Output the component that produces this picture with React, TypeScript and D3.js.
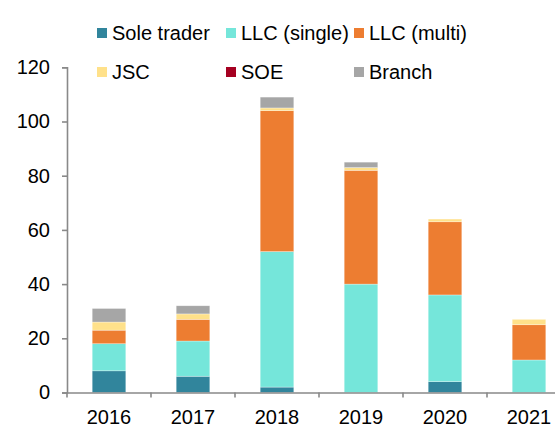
import { useEffect, useRef } from 'react'
import * as d3 from 'd3'

// stacked company counts by legal form, per year
const YEARS = ['2016', '2017', '2018', '2019', '2020', '2021']
const SERIES = ['Sole trader', 'LLC (single)', 'LLC (multi)', 'JSC', 'SOE', 'Branch']
const COLORS = ['#31859c', '#75e6da', '#ed7d31', '#ffe18a', '#a50021', '#a6a6a6']

const SOLE_TRADER = [8, 6, 2, 0, 4, 0]
const LLC_SINGLE = [10, 13, 50, 40, 32, 12]
const LLC_MULTI = [5, 8, 52, 42, 27, 13]
const JSC = [3, 2, 1, 1, 1, 2]
const SOE = [0, 0, 0, 0, 0, 0]
const BRANCH = [5, 3, 4, 2, 0, 0]

const Y_TICKS = [0, 20, 40, 60, 80, 100, 120]

const W = 555, H = 425
const FONT = 'Arial, "Liberation Sans", sans-serif'
const AXIS = '#898989'

export default function App() {
  const ref = useRef<SVGSVGElement>(null)

  useEffect(() => {
    const svg = d3.select(ref.current)
    svg.selectAll('*').remove()

    const values = [SOLE_TRADER, LLC_SINGLE, LLC_MULTI, JSC, SOE, BRANCH]
    const rows = YEARS.map((year, i) => {
      const r: any = { year }
      SERIES.forEach((s, si) => { r[s] = values[si][i] })
      return r
    })
    const stacked = d3.stack().keys(SERIES)(rows)

    const x = d3.scaleBand().domain(YEARS).range([67, 571]).paddingInner(0.6).paddingOuter(0.3)
    const y = d3.scaleLinear().domain([0, 120]).range([392.5, 67.3])

    // bars
    svg.append('g')
      .selectAll('g')
      .data(stacked)
      .join('g')
      .attr('fill', (_d, i) => COLORS[i])
      .selectAll('rect')
      .data(d => d)
      .join('rect')
      .attr('x', d => x(d.data.year as string)!)
      .attr('width', x.bandwidth())
      .attr('y', d => y(d[1]))
      .attr('height', d => y(d[0]) - y(d[1]))
      .attr('stroke', '#fff')
      .attr('stroke-opacity', 0.5)
      .attr('stroke-width', (d) => (d[1] - d[0] > 0 ? 0.6 : 0))

    // y axis
    svg.append('g')
      .attr('transform', `translate(${x.range()[0]},0)`)
      .call(d3.axisLeft(y).tickValues(Y_TICKS).tickSize(5).tickPadding(12).tickSizeOuter(5))
      .call(s => s.selectAll('line,path').attr('stroke', AXIS).attr('stroke-width', 1.6))
      .call(s => s.selectAll('text').attr('fill', '#000').attr('font-size', 20).attr('font-family', FONT))

    // x axis: labels under each bar, ticks at category boundaries
    const step = x.step()
    const gx = svg.append('g').attr('transform', `translate(0,${y(0)})`)
    gx.call(d3.axisBottom(x).tickSize(0).tickPadding(17.5))
      .call(s => s.select('.domain').attr('stroke', AXIS).attr('stroke-width', 1.6))
      .call(s => s.selectAll('text').attr('fill', '#000').attr('font-size', 20).attr('font-family', FONT))
    gx.selectAll('line.bound')
      .data(YEARS)
      .join('line')
      .attr('class', 'bound')
      .attr('x1', d => x(d)! + x.bandwidth() / 2 - step / 2)
      .attr('x2', d => x(d)! + x.bandwidth() / 2 - step / 2)
      .attr('y1', 0).attr('y2', 5)
      .attr('stroke', AXIS).attr('stroke-width', 1.6)

    // legend, 3 columns x 2 rows
    const colX = [97, 226, 354]
    const rowY = [33, 72]
    const lg = svg.append('g')
      .selectAll('g')
      .data(SERIES)
      .join('g')
      .attr('transform', (_d, i) => `translate(${colX[i % 3]},${rowY[Math.floor(i / 3)]})`)
    lg.append('rect').attr('x', 0).attr('y', -5).attr('width', 10).attr('height', 10)
      .attr('fill', (_d, i) => COLORS[i])
    lg.append('text').attr('x', 15).attr('y', 7)
      .attr('font-size', 20).attr('font-family', FONT).attr('fill', '#000')
      .text(d => d)
  }, [])

  return (
    <svg ref={ref} width={W} height={H}
      style={{ position: 'absolute', left: 0, top: 0, background: '#fff', overflow: 'hidden' }} />
  )
}
